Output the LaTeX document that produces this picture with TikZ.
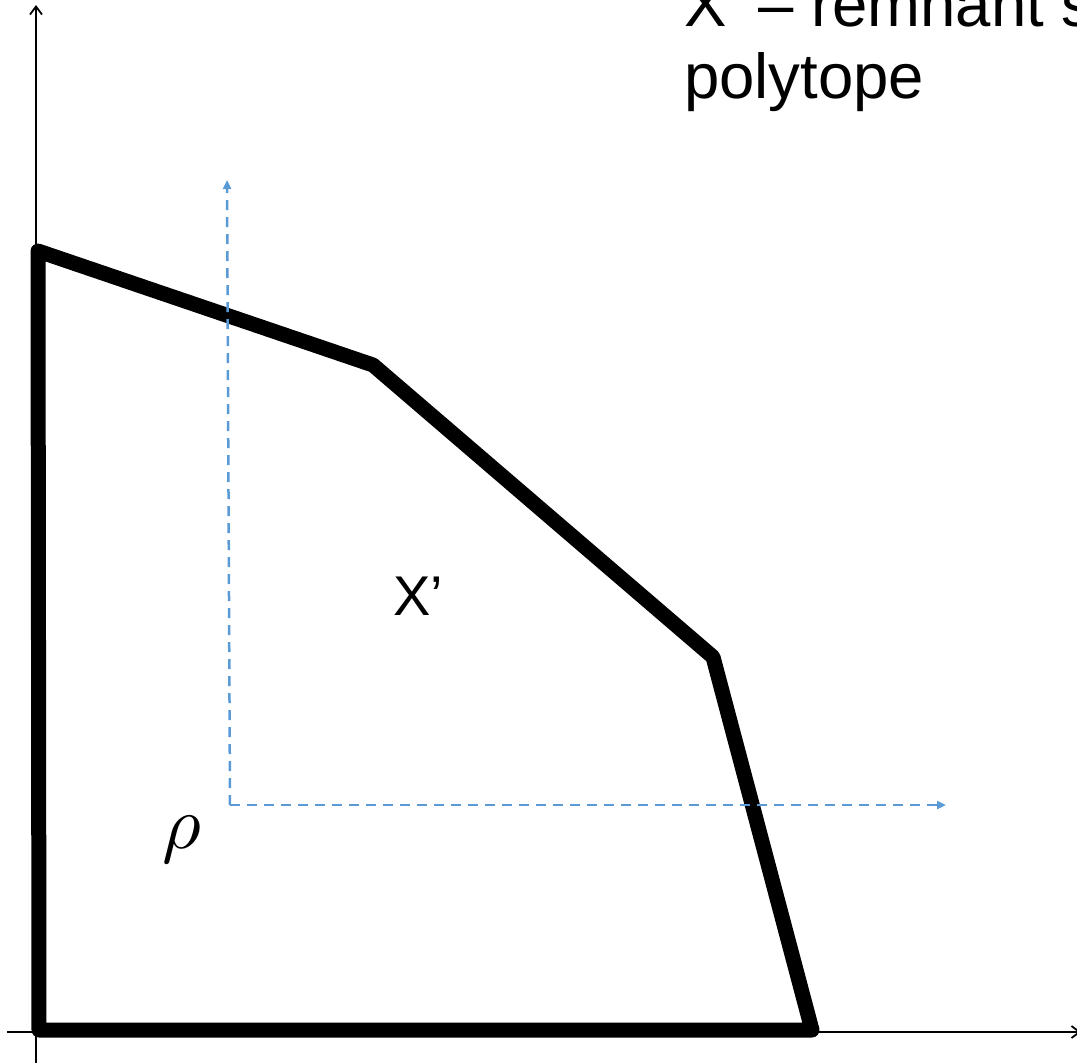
\documentclass[tikz,border=0pt]{standalone}
\usepackage{fontspec}
\usepackage{graphicx}
\setmainfont{Liberation Sans}
\usetikzlibrary{arrows.meta}
\definecolor{dashblue}{HTML}{5B9BD5}
\tikzset{
  axisline/.style={line width=1.8pt, -{Straight Barb[length=8pt,width=12pt,line width=1.8pt]}},
  polyline/.style={line width=15pt, line join=round, line cap=round},
  guideline/.style={dashblue, line width=2.5pt, dash pattern=on 10pt off 7pt, -{Triangle[length=9pt,width=8pt]}},
  bigtext/.style={font=\fontsize{63.5}{68}\selectfont, inner sep=0pt, anchor=base west},
}
\begin{document}
\begin{tikzpicture}[x=1pt,y=-1pt]
\useasboundingbox (0,0) rectangle (1077,1063);
\clip (0,0) rectangle (1077,1063);
% axes
\coordinate (o) at (36,1032);
\coordinate (ybot) at (36,1063);
\coordinate (ytop) at (36,5);
\coordinate (xleft) at (7,1032);
\coordinate (xright) at (1081,1032);
\draw[axisline] (ybot) -- (ytop);
\draw[axisline] (xleft) -- (xright);
% polytope
\coordinate (p1) at (39,1030);
\coordinate (p2) at (38,251);
\coordinate (p3) at (373,365);
\coordinate (p4) at (713,657);
\coordinate (p5) at (812,1030);
\draw[polyline] (p1) -- (p2) -- (p3) -- (p4) -- (p5) -- cycle;
% dashed guides
\coordinate (r) at (230,805);
\coordinate (rup) at (227,180);
\coordinate (rright) at (946,805);
\draw[guideline] (r) -- (rup);
\draw[guideline] (r) -- (rright);
% labels
\node[font=\fontsize{56}{60}\selectfont, inner sep=0pt, anchor=base west] (xp) at (393,615) {X’};
\node[inner sep=0pt] (rho) at (182,840) {\scalebox{7.5}{$\rho$}};
\node[bigtext] (t1) at (684,26) {X’ – remnant s};
\node[bigtext] (t2) at (684,98) {polytope};
\end{tikzpicture}
\end{document}
